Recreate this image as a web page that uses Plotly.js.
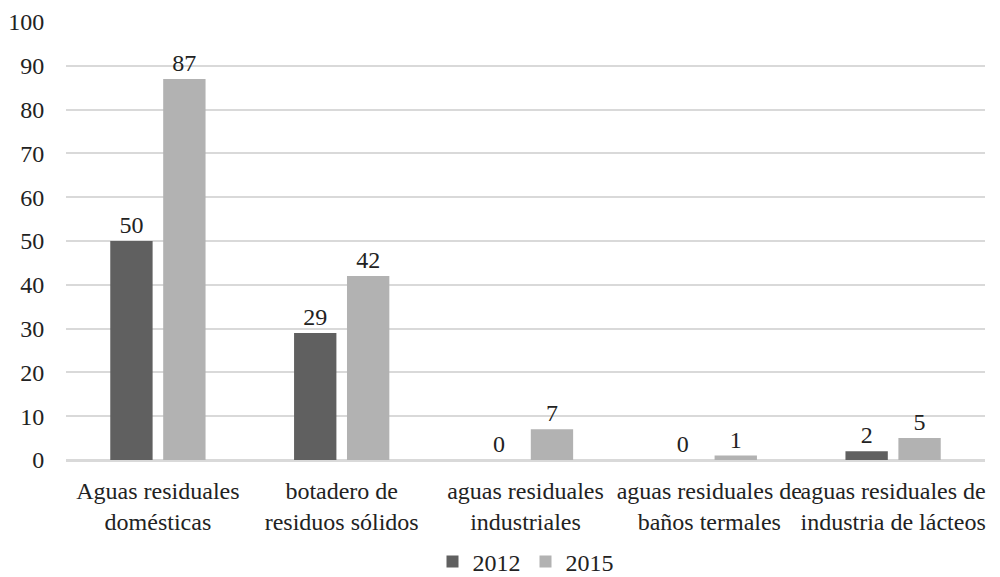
<!DOCTYPE html>
<html><head><meta charset="utf-8">
<script src="https://cdn.plot.ly/plotly-3.0.1.min.js"></script>
<style>body{margin:0;background:#fff}#c{width:1000px;height:577px}</style>
</head><body><div id="c"></div>
<script>
const categories = ["Aguas residuales<br>domésticas", "botadero de<br>residuos sólidos", "aguas residuales<br>industriales", "aguas residuales de<br>baños termales", "aguas residuales de<br>industria de lácteos"];
const values2012 = [50, 29, 0, 0, 2];
const values2015 = [87, 42, 7, 1, 5];
const seriesNames = ["2012", "2015"];
const tickVals = [0,10,20,30,40,50,60,70,80,90,100];

const font = {family: "Liberation Serif", size: 24, color: "#222"};
const traces = [
  {type: "bar", name: seriesNames[0], x: categories, y: values2012, marker: {color: "#606060"},
   text: values2012.map(String), textposition: "outside", cliponaxis: false, textfont: font},
  {type: "bar", name: seriesNames[1], x: categories, y: values2015, marker: {color: "#b2b2b2"},
   text: values2015.map(String), textposition: "outside", cliponaxis: false, textfont: font}
];
const layout = {
  width: 1000, height: 577,
  margin: {l: 66, r: 15, t: 22, b: 117, autoexpand: false},
  font: font,
  paper_bgcolor: "#fff", plot_bgcolor: "#fff",
  barmode: "group", bargap: 0.424, bargroupgap: 0.2,
  xaxis: {tickfont: font, tickangle: 0, showline: true, linecolor: "#d9d9d9", linewidth: 2, ticks: "outside", ticklen: 8,
          tickcolor: "rgba(0,0,0,0)", automargin: false},
  yaxis: {range: [0, 100], tickvals: tickVals, tickfont: font, gridcolor: "#d9d9d9", gridwidth: 2,
          zeroline: true, zerolinecolor: "#d9d9d9", zerolinewidth: 2, ticks: "outside", ticklen: 16,
          tickcolor: "rgba(0,0,0,0)", automargin: false},
  legend: {orientation: "h", x: 0.5, xanchor: "center", yref: "paper", y: -0.181, yanchor: "top", font: font,
           traceorder: "normal", itemwidth: 30},
  showlegend: true
};
Plotly.newPlot("c", traces, layout, {displayModeBar: false, staticPlot: true});
</script></body></html>
